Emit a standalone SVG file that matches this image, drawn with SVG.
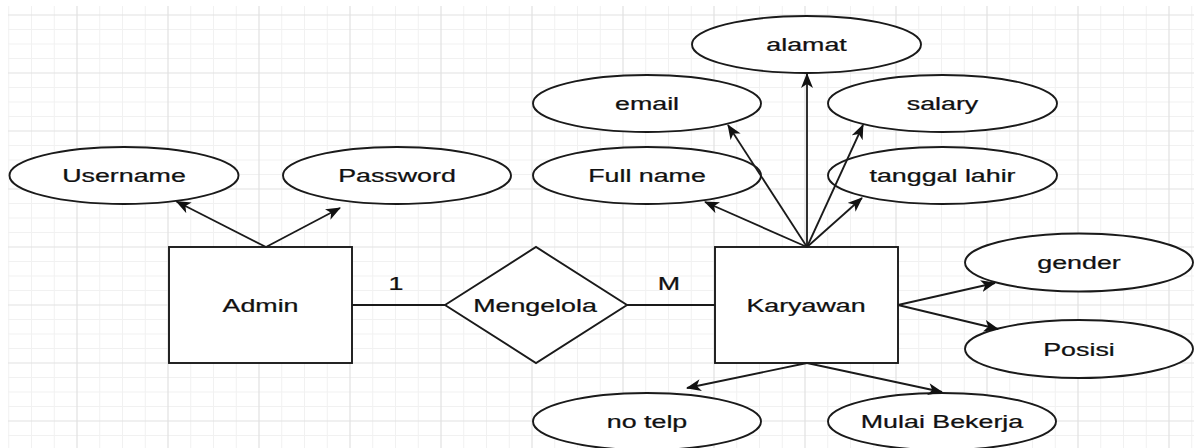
<svg xmlns="http://www.w3.org/2000/svg" width="1194" height="448" viewBox="0 0 1194 448">
<style>
.minor{stroke:#f1f1f1;stroke-width:1;fill:none}
.major{stroke:#e2e2e2;stroke-width:1.2;fill:none}
.shape{fill:#ffffff;stroke:#1a1a1a;stroke-width:1.9}
.conn{stroke:#1a1a1a;stroke-width:1.8;fill:none}
.arr{marker-end:url(#ah)}
.t{font-family:"Liberation Sans",Arial,sans-serif;font-size:18.5px;fill:#111111;text-anchor:middle;stroke:#111111;stroke-width:0.25}
</style>
<defs>
<marker id="ah" markerUnits="userSpaceOnUse" viewBox="0 0 15 12" refX="14" refY="6" markerWidth="15" markerHeight="12" orient="auto">
<path d="M0,0 L15,6 L0,12 L4,6 Z" fill="#111111"/>
</marker>
</defs>
<rect x="0" y="0" width="1194" height="448" fill="#ffffff"/>
<g id="grid">
<path class="minor" d="M8.75,6V448M31.5,6V448M54.25,6V448M99.75,6V448M122.5,6V448M145.25,6V448M190.75,6V448M213.5,6V448M236.25,6V448M281.75,6V448M304.5,6V448M327.25,6V448M372.75,6V448M395.5,6V448M418.25,6V448M463.75,6V448M486.5,6V448M509.25,6V448M554.75,6V448M577.5,6V448M600.25,6V448M645.75,6V448M668.5,6V448M691.25,6V448M736.75,6V448M759.5,6V448M782.25,6V448M827.75,6V448M850.5,6V448M873.25,6V448M918.75,6V448M941.5,6V448M964.25,6V448M1009.75,6V448M1032.5,6V448M1055.25,6V448M1100.75,6V448M1123.5,6V448M1146.25,6V448M1191.75,6V448
M8,29.5H1194M8,44H1194M8,58.5H1194M8,87.5H1194M8,102H1194M8,116.5H1194M8,145.5H1194M8,160H1194M8,174.5H1194M8,203.5H1194M8,218H1194M8,232.5H1194M8,261.5H1194M8,276H1194M8,290.5H1194M8,319.5H1194M8,334H1194M8,348.5H1194M8,377.5H1194M8,392H1194M8,406.5H1194M8,435.5H1194"/>
<path class="major" d="M77,6V448M168,6V448M259,6V448M350,6V448M441,6V448M532,6V448M623,6V448M714,6V448M805,6V448M896,6V448M987,6V448M1078,6V448M1169,6V448
M8,15H1194M8,73H1194M8,131H1194M8,189H1194M8,247H1194M8,305H1194M8,363H1194M8,421H1194"/>
</g>
<g id="node-username"><ellipse class="shape" cx="124" cy="175.5" rx="114.5" ry="28.5"/><text class="t" transform="translate(124,182) scale(1.45,1)">Username</text></g>
<g id="node-password"><ellipse class="shape" cx="397" cy="175.5" rx="114" ry="28.5"/><text class="t" transform="translate(397,182) scale(1.45,1)">Password</text></g>
<g id="node-admin"><rect class="shape" x="169" y="247" width="183" height="116"/><text class="t" transform="translate(260.5,311.5) scale(1.45,1)">Admin</text></g>
<g id="node-mengelola"><polygon class="shape" points="445,305 536,247 627,305 536,363"/><text class="t" transform="translate(535,311.5) scale(1.45,1)">Mengelola</text></g>
<g id="node-karyawan"><rect class="shape" x="715" y="247" width="183" height="116"/><text class="t" transform="translate(806,311.5) scale(1.45,1)">Karyawan</text></g>
<g id="node-alamat"><ellipse class="shape" cx="806.5" cy="44.5" rx="114.5" ry="28.5"/><text class="t" transform="translate(806.5,51) scale(1.45,1)">alamat</text></g>
<g id="node-email"><ellipse class="shape" cx="647" cy="103.5" rx="114" ry="28.5"/><text class="t" transform="translate(647,110) scale(1.45,1)">email</text></g>
<g id="node-salary"><ellipse class="shape" cx="942.5" cy="103.5" rx="114.5" ry="28.5"/><text class="t" transform="translate(942.5,110) scale(1.45,1)">salary</text></g>
<g id="node-fullname"><ellipse class="shape" cx="647" cy="175.5" rx="114" ry="28.5"/><text class="t" transform="translate(647,182) scale(1.45,1)">Full name</text></g>
<g id="node-tanggallahir"><ellipse class="shape" cx="942.5" cy="175.5" rx="114.5" ry="28.5"/><text class="t" transform="translate(942.5,182) scale(1.45,1)">tanggal lahir</text></g>
<g id="node-gender"><ellipse class="shape" cx="1079" cy="262.5" rx="114" ry="29"/><text class="t" transform="translate(1079,269) scale(1.45,1)">gender</text></g>
<g id="node-posisi"><ellipse class="shape" cx="1079" cy="349" rx="114" ry="29"/><text class="t" transform="translate(1079,355.5) scale(1.45,1)">Posisi</text></g>
<g id="node-notelp"><ellipse class="shape" cx="647" cy="421.5" rx="114" ry="28.5"/><text class="t" transform="translate(647,428) scale(1.45,1)">no telp</text></g>
<g id="node-mulaibekerja"><ellipse class="shape" cx="942" cy="421.5" rx="114" ry="28.5"/><text class="t" transform="translate(942,428) scale(1.45,1)">Mulai Bekerja</text></g>
<g id="connectors">
<line class="conn arr" x1="266" y1="247" x2="176.5" y2="201.5"/>
<line class="conn arr" x1="266" y1="247" x2="340" y2="208"/>
<line class="conn" x1="352" y1="305" x2="445" y2="305"/>
<line class="conn" x1="627" y1="305" x2="715" y2="305"/>
<line class="conn arr" x1="807" y1="247" x2="705" y2="202"/>
<line class="conn arr" x1="807" y1="247" x2="728" y2="125"/>
<line class="conn arr" x1="807" y1="247" x2="807" y2="74"/>
<line class="conn arr" x1="807" y1="247" x2="863" y2="125"/>
<line class="conn arr" x1="807" y1="247" x2="862" y2="198"/>
<line class="conn arr" x1="898" y1="305" x2="995" y2="283"/>
<line class="conn arr" x1="898" y1="305" x2="998" y2="329"/>
<line class="conn arr" x1="807" y1="363" x2="687" y2="388"/>
<line class="conn arr" x1="807" y1="363" x2="942" y2="392"/>
<text class="t" transform="translate(396,289.5) scale(1.45,1)">1</text>
<text class="t" transform="translate(669,289.5) scale(1.45,1)">M</text>
</g>
</svg>
